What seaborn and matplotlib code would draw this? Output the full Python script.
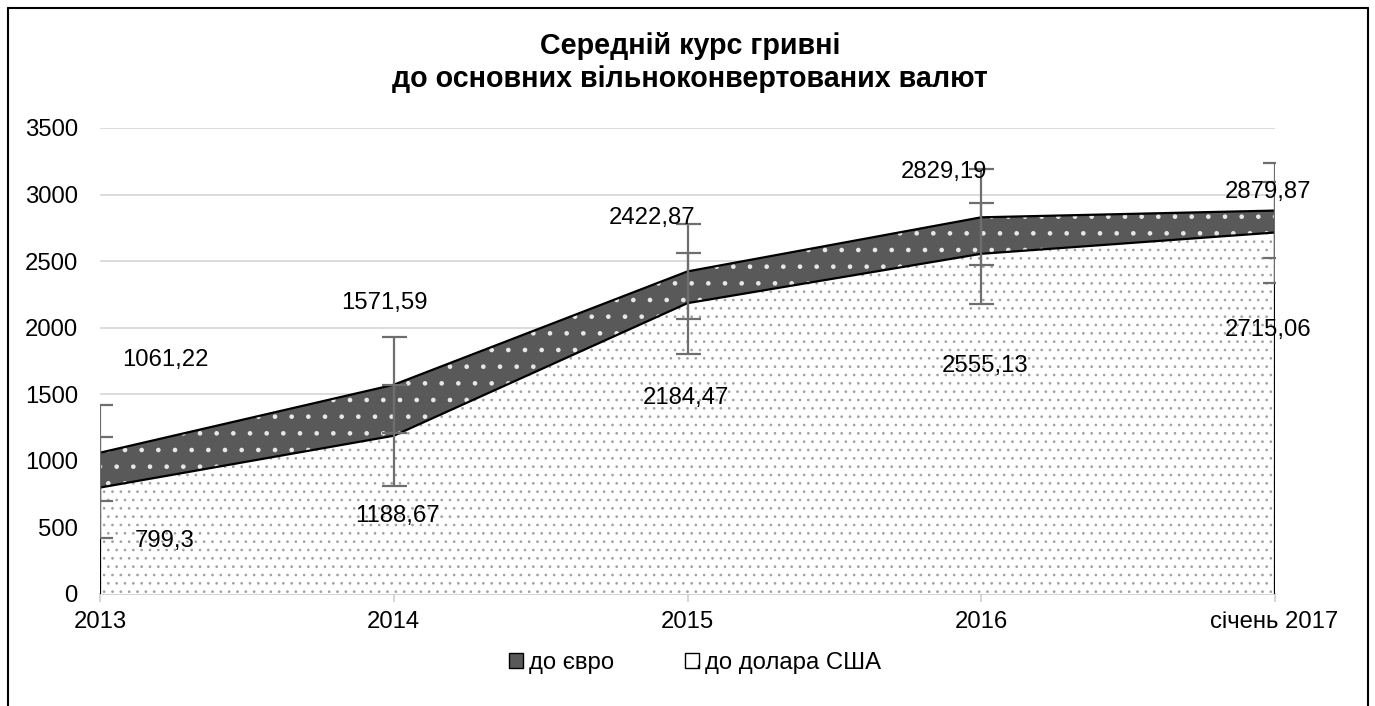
import numpy as np
import pandas as pd
import matplotlib
matplotlib.use("Agg")
import matplotlib.pyplot as plt
import matplotlib.transforms as mtransforms
from matplotlib.patches import Patch
from matplotlib.lines import Line2D
import seaborn as sns

categories = ["2013", "2014", "2015", "2016", "січень 2017"]
eur_values = [1061.22, 1571.59, 2422.87, 2829.19, 2879.87]
usd_values = [799.3, 1188.67, 2184.47, 2555.13, 2715.06]
eur_labels = ["1061,22", "1571,59", "2422,87", "2829,19", "2879,87"]
usd_labels = ["799,3", "1188,67", "2184,47", "2555,13", "2715,06"]
yticks = [0, 500, 1000, 1500, 2000, 2500, 3000, 3500]
title = "Середній курс гривні\nдо основних вільноконвертованих валют"
legend_names = ["до євро", "до долара США"]

# label offsets (pixels) relative to the data point
eur_off = [(65, 93), (-9, 82), (-35, 53), (-37, 45), (-7, 19)]
usd_off = [(65, -53), (4, -80), (-2, -95), (4, -112), (-7, -97)]

sns.set_theme(style="white")
plt.rcParams['font.family'] = ['Liberation Sans', 'DejaVu Sans']
plt.rcParams['text.color'] = 'black'
plt.rcParams['xtick.color'] = 'black'
plt.rcParams['ytick.color'] = 'black'

FS = 17.2

df = pd.DataFrame({"x": np.arange(len(categories)), "eur": eur_values, "usd": usd_values})

# standard error error bars (as in Excel)
eur_err = np.std(eur_values, ddof=1) / np.sqrt(len(eur_values))
usd_err = np.std(usd_values, ddof=1) / np.sqrt(len(usd_values))

fig = plt.figure(figsize=(13.75, 7.06), dpi=100)
ax = fig.add_axes([100/1375, 1-594/706, 1175/1375, 466/706])

x = df["x"].values
# euro area (back)
ax.fill_between(x, 0, df["eur"], facecolor="#595959", edgecolor="none", zorder=2)
with plt.rc_context({'hatch.linewidth': 0.9}):
    ax.fill_between(x, 0, df["eur"], facecolor="none", edgecolor="#e8e8e8", hatch=".", linewidth=0, zorder=2.1)
# dollar area (front)
ax.fill_between(x, 0, df["usd"], facecolor="white", edgecolor="none", zorder=3)
with plt.rc_context({'hatch.linewidth': 0.7}):
    ax.fill_between(x, 0, df["usd"], facecolor="none", edgecolor="#a0a0a0", hatch="..", linewidth=0, zorder=3.1)

sns.lineplot(data=df, x="x", y="eur", color="black", linewidth=1.6, ax=ax, zorder=4)
sns.lineplot(data=df, x="x", y="usd", color="black", linewidth=1.6, ax=ax, zorder=4)
for xi in [x[0], x[-1]]:
    ax.plot([xi, xi], [0, df["eur"].iloc[int(xi)]], color="black", linewidth=1.6, zorder=4)

ax.errorbar(x, df["eur"], yerr=eur_err, fmt="none", ecolor="#6e6e6e", elinewidth=1.6, capsize=9, capthick=1.6, zorder=5)
ax.errorbar(x, df["usd"], yerr=usd_err, fmt="none", ecolor="#6e6e6e", elinewidth=1.6, capsize=9, capthick=1.6, zorder=5)

for i in range(len(x)):
    ax.annotate(eur_labels[i], (x[i], eur_values[i]), xytext=eur_off[i], textcoords="offset pixels",
                ha="center", va="center", fontsize=FS, color="black", zorder=6)
    ax.annotate(usd_labels[i], (x[i], usd_values[i]), xytext=usd_off[i], textcoords="offset pixels",
                ha="center", va="center", fontsize=FS, color="black", zorder=6)

ax.set_xlim(0, len(categories) - 1)
ax.set_ylim(0, 3500)
ax.set_yticks(yticks)
ax.set_yticklabels([str(v) for v in yticks], fontsize=FS)
ax.set_xticks(x)
ax.set_xticklabels(categories, fontsize=FS)
ax.tick_params(axis="y", length=0, pad=16)
ax.tick_params(axis="x", length=6, color="#d0d0d0", pad=6, bottom=True)
xt = ax.get_xticklabels()
xt[-1].set_ha("right")
xt[-1].set_transform(xt[-1].get_transform() + mtransforms.ScaledTranslation(63/100, 0, fig.dpi_scale_trans))
ax.set_xlabel("")
ax.set_ylabel("")
ax.yaxis.grid(True, color="#d9d9d9", linewidth=1.3)
ax.set_axisbelow(True)
for s in ["top", "right", "left"]:
    ax.spines[s].set_visible(False)
ax.spines["bottom"].set_color("#d0d0d0")
ax.spines["bottom"].set_linewidth(1.3)
ax.spines["bottom"].set_zorder(1)

fig.text(690/1375, 1-62.5/706, title, ha="center", va="center", fontsize=20.6, fontweight="bold",
         linespacing=1.2, color="black")

with plt.rc_context({'hatch.linewidth': 0.8}):
    handles = [Patch(facecolor="#595959", edgecolor="black", linewidth=1.0),
               Patch(facecolor="white", edgecolor="black", hatch=".", linewidth=1.0)]
fig.legend(handles, legend_names, loc="center", bbox_to_anchor=(695/1375, 1-663/706), ncol=2,
           frameon=False, fontsize=FS, handlelength=0.55, handleheight=0.55, handletextpad=0.25,
           columnspacing=3.0)

# chart border
fig.add_artist(Line2D([8/1375, 8/1375], [0, 1-8/706], color="black", linewidth=1.5, transform=fig.transFigure))
fig.add_artist(Line2D([8/1375, 1368/1375], [1-8/706, 1-8/706], color="black", linewidth=1.5, transform=fig.transFigure))
fig.add_artist(Line2D([1368/1375, 1368/1375], [0, 1-8/706], color="black", linewidth=1.5, transform=fig.transFigure))

fig.savefig("out.png", dpi=100)
